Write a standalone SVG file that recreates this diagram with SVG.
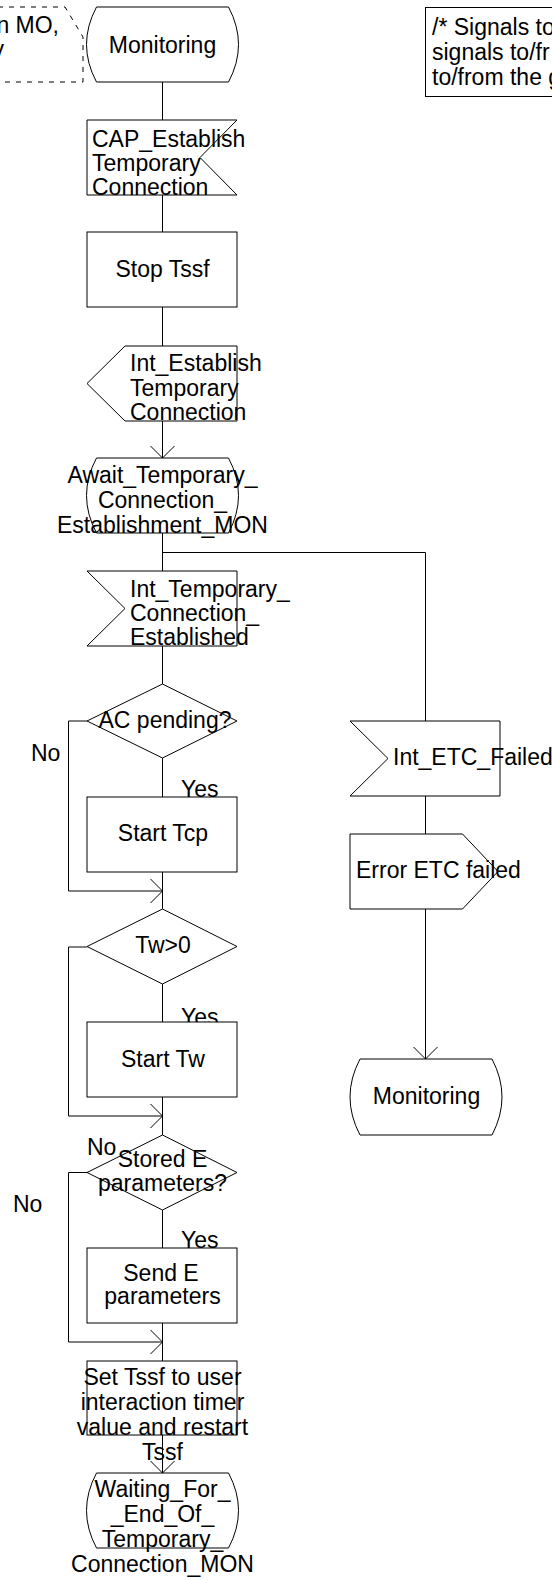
<svg xmlns="http://www.w3.org/2000/svg" width="552" height="1580" viewBox="0 0 552 1580">
<style>
.s{fill:#fff;stroke:#000;stroke-width:1}
.c{fill:none;stroke:#000;stroke-width:1}
.d{fill:none;stroke:#000;stroke-width:1;stroke-dasharray:5 6}
text{font-family:"Liberation Sans",Arial,sans-serif;font-size:23px;fill:#000}
.m{text-anchor:middle}
.e{text-anchor:end}
</style>
<defs>
<marker id="ah" viewBox="-13 -13 14 26" refX="0" refY="0" markerWidth="14" markerHeight="26" markerUnits="userSpaceOnUse" orient="auto">
<path d="M-12,-12 L0,0 L-12,12" fill="none" stroke="#000" stroke-width="1"/>
</marker>
</defs>
<g id="connectors">
<path class="c" d="M162.5,82 V120"/>
<path class="c" d="M162.5,195 V232"/>
<path class="c" d="M162.5,307 V346"/>
<path class="c" d="M162.5,421 V458" marker-end="url(#ah)"/>
<path class="c" d="M162.5,533 V571"/>
<path class="c" d="M162.5,552.5 H425.5 V721"/>
<path class="c" d="M162.5,646 V684"/>
<path class="c" d="M162.5,758 V797"/>
<path class="c" d="M87,721 H68.5 V891 H162.5" marker-end="url(#ah)"/>
<path class="c" d="M162.5,872 V909"/>
<path class="c" d="M87,947 H68.5 V1116 H162.5" marker-end="url(#ah)"/>
<path class="c" d="M162.5,984 V1022"/>
<path class="c" d="M162.5,1097 V1135"/>
<path class="c" d="M87,1172.5 H68.5 V1342 H162.5" marker-end="url(#ah)"/>
<path class="c" d="M162.5,1210 V1248"/>
<path class="c" d="M162.5,1323 V1361"/>
<path class="c" d="M162.5,1435 V1473" marker-end="url(#ah)"/>
<path class="c" d="M425.5,796 V834"/>
<path class="c" d="M425.5,909 V1059" marker-end="url(#ah)"/>
</g>
<g id="comment-left">
<path class="d" d="M-2,7 H65 L83,37 V82 H-2"/>
<text x="59" y="33" class="e">n MO,</text>
<text x="4" y="57" class="e">y</text>
</g>
<g id="comment-right">
<rect class="s" x="425.5" y="7.5" width="140" height="89"/>
<text x="432" y="35">/* Signals to</text>
<text x="432" y="60">signals to/fr</text>
<text x="432" y="85">to/from the g</text>
</g>
<g id="monitoring-1">
<path class="s" d="M96.5,7 H228.5 Q248.5,44.5 228.5,82 H96.5 Q76.5,44.5 96.5,7 Z"/>
<text x="162.5" y="53" class="m">Monitoring</text>
</g>
<g id="cap-establish">
<polygon class="s" points="87,120 237,120 200,157.5 237,195 87,195"/>
<text x="92" y="147">CAP_Establish</text>
<text x="92" y="171">Temporary</text>
<text x="92" y="195">Connection</text>
</g>
<g id="stop-tssf">
<rect class="s" x="87" y="232" width="150" height="75"/>
<text x="162.5" y="277" class="m">Stop Tssf</text>
</g>
<g id="int-establish">
<polygon class="s" points="125,346 237,346 237,421 125,421 87,383.5"/>
<text x="130" y="371">Int_Establish</text>
<text x="130" y="395.5">Temporary</text>
<text x="130" y="420">Connection</text>
</g>
<g id="await">
<path class="s" d="M96.5,458 H228.5 Q248.5,495.5 228.5,533 H96.5 Q76.5,495.5 96.5,458 Z"/>
<text x="162.5" y="483" class="m">Await_Temporary_</text>
<text x="162.5" y="508" class="m">Connection_</text>
<text x="162.5" y="533" class="m">Establishment_MON</text>
</g>
<g id="int-temp-established">
<polygon class="s" points="87,571 237,571 237,646 87,646 125,608.5"/>
<text x="130" y="597">Int_Temporary_</text>
<text x="130" y="621">Connection_</text>
<text x="130" y="645">Established</text>
</g>
<g id="ac-pending">
<polygon class="s" points="162.5,684 237,721 162.5,758 87,721"/>
<text x="165" y="728" class="m">AC pending?</text>
</g>
<g id="label-no-1"><text x="31" y="761">No</text></g>
<g id="label-yes-1"><text x="181" y="797">Yes</text></g>
<g id="start-tcp">
<rect class="s" x="87" y="797" width="150" height="75"/>
<text x="163" y="841" class="m">Start Tcp</text>
</g>
<g id="tw-gt-0">
<polygon class="s" points="162.5,909 237,946.5 162.5,984 87,946.5"/>
<text x="163" y="953" class="m">Tw&gt;0</text>
</g>
<g id="label-yes-2"><text x="181" y="1025">Yes</text></g>
<g id="start-tw">
<rect class="s" x="87" y="1022" width="150" height="75"/>
<text x="163" y="1067" class="m">Start Tw</text>
</g>
<g id="label-no-2"><text x="87" y="1155">No</text></g>
<g id="stored-e">
<polygon class="s" points="162.5,1135 237,1172.5 162.5,1210 87,1172.5"/>
<text x="162.5" y="1167" class="m">Stored E</text>
<text x="162.5" y="1191" class="m">parameters?</text>
</g>
<g id="label-no-3"><text x="13" y="1212">No</text></g>
<g id="label-yes-3"><text x="181" y="1248">Yes</text></g>
<g id="send-e">
<rect class="s" x="87" y="1248" width="150" height="75"/>
<text x="161" y="1281" class="m">Send E</text>
<text x="162.5" y="1304" class="m">parameters</text>
</g>
<g id="set-tssf">
<rect class="s" x="87" y="1361" width="150" height="74"/>
<text x="162.5" y="1385" class="m">Set Tssf to user</text>
<text x="162.5" y="1410" class="m">interaction timer</text>
<text x="162.5" y="1435" class="m">value and restart</text>
<text x="162.5" y="1460" class="m">Tssf</text>
</g>
<g id="waiting">
<path class="s" d="M96.5,1473 H228.5 Q248.5,1510.5 228.5,1548 H96.5 Q76.5,1510.5 96.5,1473 Z"/>
<text x="162.5" y="1497" class="m">Waiting_For_</text>
<text x="162.5" y="1522" class="m">_End_Of_</text>
<text x="162.5" y="1547" class="m">Temporary_</text>
<text x="162.5" y="1572" class="m">Connection_MON</text>
</g>
<g id="int-etc-failed">
<polygon class="s" points="350,721 500,721 500,796 350,796 388,758.5"/>
<text x="393" y="765">Int_ETC_Failed</text>
</g>
<g id="error-etc-failed">
<polygon class="s" points="350,834 462.5,834 498,871.5 462.5,909 350,909"/>
<text x="356" y="878">Error ETC failed</text>
</g>
<g id="monitoring-2">
<path class="s" d="M360,1059 H492 Q512,1097 492,1135 H360 Q340,1097 360,1059 Z"/>
<text x="426.5" y="1104" class="m">Monitoring</text>
</g>
</svg>
